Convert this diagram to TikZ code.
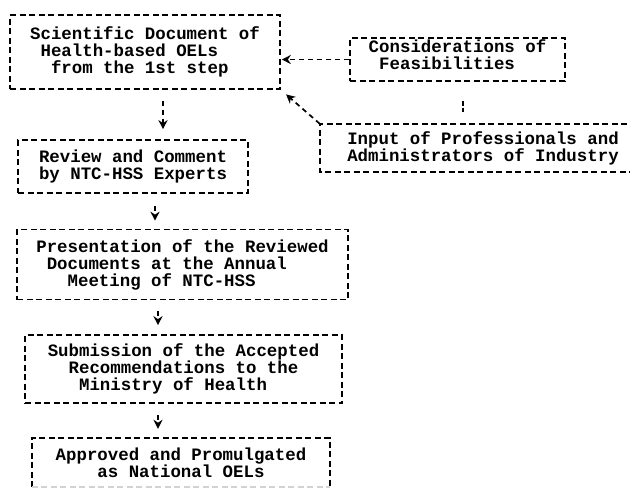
\documentclass[tikz,border=0pt]{standalone}
\usepackage{fontspec}
\setmonofont{Liberation Mono}
\usetikzlibrary{arrows.meta}
\begin{document}
\begin{tikzpicture}[x=1pt,y=-1pt,
  txt/.style={inner sep=0pt, align=left, font=\fontsize{17.4}{17}\selectfont\ttfamily\bfseries},
  box/.style={txt, draw, line width=1.6pt, dash pattern=on 6pt off 3.5pt},
  boxline/.style={line width=1.6pt, dash pattern=on 6pt off 3.5pt},
  arr/.style={line width=1.7pt, dash pattern=on 5pt off 4pt, -{Stealth[length=9pt,width=9pt]}},
  link/.style={line width=1.6pt, dash pattern=on 5pt off 2pt}]
\useasboundingbox (0,0) rectangle (630,491);

\node[box, minimum width=270pt, minimum height=74pt] (b1) at (145,52)
  {Scientific Document of\\\hphantom{X}Health-based OELs\\\hphantom{XX}from the 1st step};
\node[box, minimum width=230pt, minimum height=53pt] (b2) at (133,166.5)
  {Review and Comment\\by NTC-HSS Experts};
\node[box, minimum width=331pt, minimum height=70pt] (b3) at (182.5,264.5)
  {Presentation of the Reviewed\\\hphantom{X}Documents at the Annual\\\hphantom{XXX}Meeting of NTC-HSS};
\node[box, minimum width=317pt, minimum height=68pt] (b4) at (183.5,369)
  {Submission of the Accepted\\\hphantom{XX}Recommendations to the\\\hphantom{XXX}Ministry of Health};
\node[txt, minimum width=298pt, minimum height=49pt] (b5) at (181,462.5)
  {Approved and Promulgated\\\hphantom{XXXX}as National OELs};
\draw[boxline] (b5.south west) -- (b5.north west) -- (b5.north east) -- (b5.south east);
\draw[boxline, gray!35] (b5.south west) -- (b5.south east);

\node[box, minimum width=215pt, minimum height=43pt, text depth=10pt] (cons) at (457.5,59.5)
  {Considerations of\\\hphantom{X}Feasibilities};
\node[txt, minimum width=326pt, minimum height=48pt] (inp) at (483,148)
  {Input of Professionals and\\Administrators of Industry};
\draw[boxline] (inp.north east) -- (inp.north west) -- (inp.south west) -- (inp.south east);

\draw[arr, shorten <=11pt, shorten >=10pt] ([xshift=18pt]b1.south) -- ([xshift=30pt]b2.north);
\draw[arr, shorten <=12pt, shorten >=8pt] ([xshift=22pt]b2.south) -- ([xshift=-27.5pt]b3.north);
\draw[arr, shorten <=11pt, shorten >=9pt] ([xshift=-24.5pt]b3.south) -- ([xshift=-25.5pt]b4.north);
\draw[arr, shorten <=11pt, shorten >=9pt] ([xshift=-25.5pt]b4.south) -- ([xshift=-23pt]b5.north);

\draw[arr, shorten >=1pt] (cons.west) -- (cons.west -| b1.east);
\draw[link, shorten <=19pt, shorten >=12pt] ([xshift=5.5pt]cons.south) -- ([xshift=5.5pt]cons.south |- inp.north);
\draw[arr, shorten >=7pt] (inp.north west) -- (b1.south east);
\end{tikzpicture}
\end{document}
